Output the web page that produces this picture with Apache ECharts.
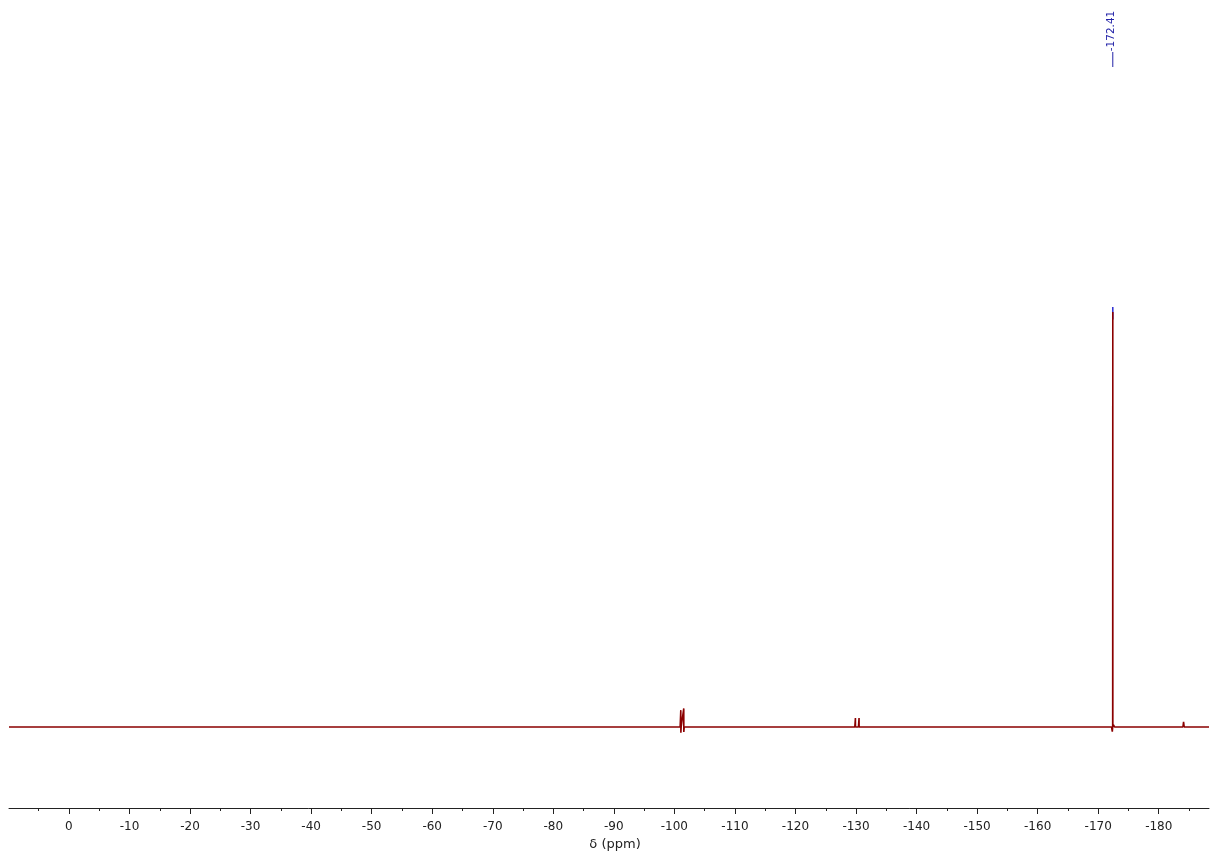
<!DOCTYPE html>
<html>
<head>
<meta charset="utf-8">
<script src="https://cdn.jsdelivr.net/npm/echarts@6/dist/echarts.min.js"></script>
<style>
html,body{margin:0;padding:0;background:#fff;}
#c{width:1210px;height:852px;}
</style>
</head>
<body>
<div id="c"></div>
<script>
// Spectrum shape (ppm, relative intensity)
const shiftPpm = [9.9, -100.95, -101.06, -101.07, -101.12, -101.45, -101.55, -101.56, -101.62,
  -129.8, -129.9, -129.91, -130.4, -130.5, -130.51,
  -172.2, -172.33, -172.39, -172.41, -172.42, -172.52, -172.7,
  -184.0, -184.1, -184.2, -188.3];
const intensity = [0, 0, 4.0, -1.4, 0, 0, 4.4, -1.2, 0,
  0, 2.1, 0, 0, 2.1, 0,
  0, -1.1, 0, 98.8, 0, 0.5, 0,
  0, 1.2, 0, 0];
// Picked-peak highlight (blue tip) and label
const pickedPeak = -172.41;
const pickedTipFrom = 97.0;
const pickedTipTo = 100.0;
const pickedLabel = '-172.41';
// Axis ticks
const majorTicks = [0, -10, -20, -30, -40, -50, -60, -70, -80, -90, -100, -110, -120, -130, -140, -150, -160, -170, -180];
const minorTicks = [5, -5, -15, -25, -35, -45, -55, -65, -75, -85, -95, -105, -115, -125, -135, -145, -155, -165, -175, -185];
const axisMin = -188.3, axisMax = 9.9;
const axisTitle = 'δ (ppm)';

const spectrum = shiftPpm.map((x, i) => [x, intensity[i]]);
const tip = [[pickedPeak, pickedTipFrom], [pickedPeak, pickedTipTo]];

const chart = echarts.init(document.getElementById('c'), null, {renderer: 'canvas'});
const font = 'DejaVu Sans, Verdana, sans-serif';
chart.setOption({
  animation: false,
  backgroundColor: '#ffffff',
  grid: {left: 9, right: 1, top: 0, bottom: 44, containLabel: false, outerBoundsMode: 'none'},
  xAxis: [{
    type: 'value', inverse: true, min: axisMin, max: axisMax,
    axisLine: {show: true, onZero: false, lineStyle: {color: '#222', width: 1}},
    axisTick: {show: true, customValues: majorTicks, length: 6, lineStyle: {color: '#222'}},
    axisLabel: {show: true, customValues: majorTicks, margin: 13, color: '#222', fontSize: 12, fontFamily: font,
      formatter: v => String(v)},
    splitLine: {show: false},
    name: axisTitle, nameLocation: 'middle', nameGap: 21,
    nameTextStyle: {color: '#222', fontSize: 13, fontFamily: font, padding: [0, 0, 0, 12]}
  }, {
    type: 'value', inverse: true, min: axisMin, max: axisMax, position: 'bottom', offset: 0,
    axisLine: {show: false, onZero: false},
    axisTick: {show: true, customValues: minorTicks, length: 3, lineStyle: {color: '#222'}},
    axisLabel: {show: false},
    splitLine: {show: false}
  }],
  yAxis: {type: 'value', min: -19.3, max: 173.1, show: false},
  series: [{
    type: 'line', name: 'tip', data: tip, xAxisIndex: 0, showSymbol: false, symbol: 'none',
    lineStyle: {color: '#2b2bd0', width: 1.5}, z: 2
  }, {
    type: 'line', name: 'spectrum', data: spectrum, xAxisIndex: 0, showSymbol: false, symbol: 'none',
    lineStyle: {color: '#8b0000', width: 1.6}, z: 3
  }]
});

const px = chart.convertToPixel({xAxisIndex: 0}, pickedPeak);
chart.setOption({
  graphic: [{
    type: 'line', shape: {x1: px, y1: 52, x2: px, y2: 67},
    style: {stroke: '#2323a8', lineWidth: 1}
  }, {
    type: 'text', x: px - 2, y: 31, rotation: Math.PI / 2,
    style: {text: pickedLabel, fill: '#2323a8', font: '10.5px DejaVu Sans, Verdana, sans-serif',
      align: 'center', verticalAlign: 'middle'}
  }]
});
</script>
</body>
</html>
